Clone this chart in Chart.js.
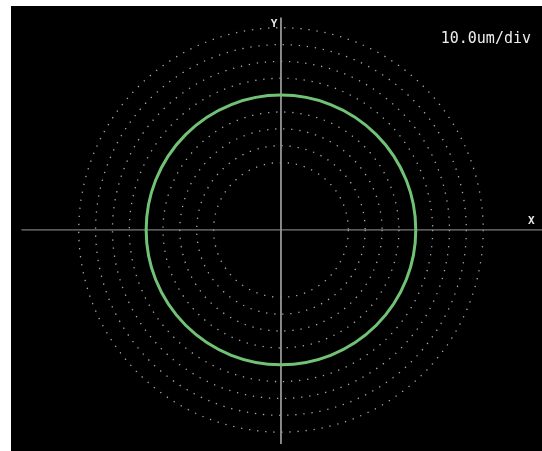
<!DOCTYPE html>
<html>
<head>
<meta charset="utf-8">
<script src="https://cdn.jsdelivr.net/npm/chart.js@4"></script>
<style>
  html, body { margin: 0; padding: 0; background: #fff; }
  .wrap { position: absolute; left: 11px; top: 6px; width: 531px; height: 445px; background: #000; }
</style>
</head>
<body>
<div class="wrap"><canvas id="myChart"></canvas></div>
<script>
// waarden in um
const ringRadii = [40, 50, 60, 70, 80, 90, 100, 110, 120];
const measuredRadius = 80;
const xAxisData = [{ x: -154, y: 0 }, { x: 156, y: 0 }];
const yAxisData = [{ x: 0, y: 126 }, { x: 0, y: -127 }];
const scaleLabel = "10.0um/div";
const xLabel = "X";
const yLabel = "Y";

const canvas = document.getElementById("myChart");

// cirkels tekenen via de schalen van de grafiek
const ringsPlugin = {
  id: "rings",
  beforeDatasetsDraw(chart) {
    const ctx = chart.ctx;
    const xs = chart.scales.x;
    const ys = chart.scales.y;
    const cx = xs.getPixelForValue(0);
    const cy = ys.getPixelForValue(0);
    ctx.save();
    ctx.strokeStyle = "#a8a8a8";
    ctx.lineWidth = 1.3;
    ctx.setLineDash([1.3, 6.8]);
    for (let i = 0; i < ringRadii.length; i++) {
      const r = xs.getPixelForValue(ringRadii[i]) - cx;
      ctx.beginPath();
      ctx.arc(cx, cy, r, 0, Math.PI * 2);
      ctx.stroke();
    }
    ctx.restore();
  },
  afterDatasetsDraw(chart) {
    const ctx = chart.ctx;
    const xs = chart.scales.x;
    const ys = chart.scales.y;
    const cx = xs.getPixelForValue(0);
    const cy = ys.getPixelForValue(0);
    const r = xs.getPixelForValue(measuredRadius) - cx;
    ctx.save();
    ctx.strokeStyle = "#72c276";
    ctx.lineWidth = 3;
    ctx.beginPath();
    ctx.arc(cx, cy, r, 0, Math.PI * 2);
    ctx.stroke();

    ctx.fillStyle = "#e8e8e8";
    ctx.font = "bold 11px 'DejaVu Sans Mono'";
    ctx.textAlign = "center";
    ctx.textBaseline = "middle";
    ctx.fillText(yLabel, cx - 7, ys.getPixelForValue(yAxisData[0].y) + 7);
    ctx.fillText(xLabel, xs.getPixelForValue(148.5), cy - 9);
    ctx.font = "15px 'DejaVu Sans Mono'";
    ctx.textAlign = "right";
    ctx.fillStyle = "#eeeeee";
    ctx.fillText(scaleLabel, chart.width - 11, 33);
    ctx.restore();
  }
};

new Chart(canvas, {
  type: "scatter",
  data: {
    datasets: [
      { data: xAxisData, showLine: true, borderColor: "#9a9a9a", borderWidth: 1, pointRadius: 0 },
      { data: yAxisData, showLine: true, borderColor: "#9a9a9a", borderWidth: 1, pointRadius: 0 }
    ]
  },
  options: {
    responsive: true,
    maintainAspectRatio: false,
    animation: false,
    layout: { padding: 0 },
    plugins: { legend: { display: false }, tooltip: { enabled: false } },
    scales: {
      x: { type: "linear", display: false, min: -160.2, max: 154.9 },
      y: { type: "linear", display: false, min: -131.2, max: 132.9 }
    }
  },
  plugins: [ringsPlugin]
});
</script>
</body>
</html>
